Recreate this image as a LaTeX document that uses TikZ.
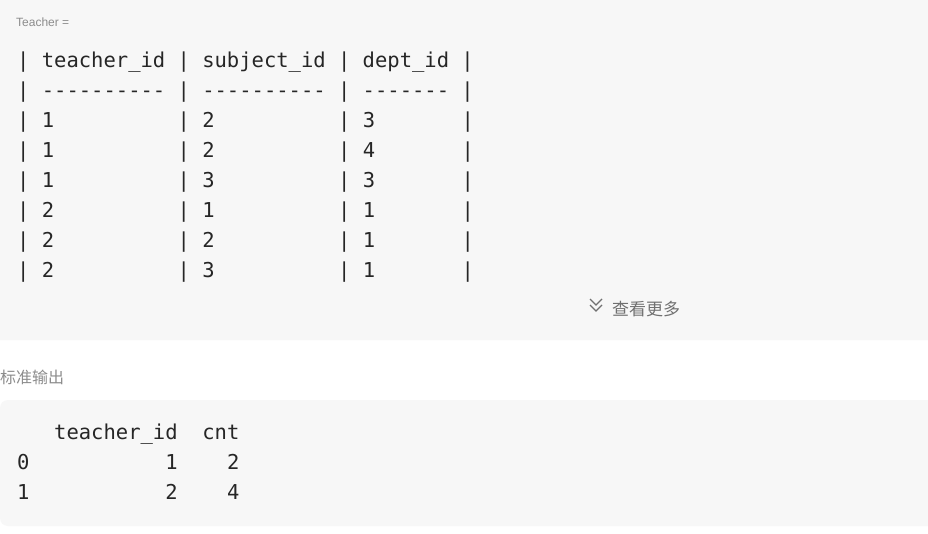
\documentclass[tikz,border=0pt]{standalone}
\usepackage{fontspec}
\setmainfont{Liberation Sans}
\setmonofont{DejaVu Sans Mono}
\newfontfamily\cjk{Noto Sans CJK SC}
\begin{document}
\begin{tikzpicture}[x=1pt,y=-1pt,
  panel/.style={fill=panelgray,draw=none,rounded corners=8pt},
  code/.style={anchor=base west,inner sep=0pt,font=\ttfamily\fontsize{20.5}{24}\selectfont,text=codecol},
  lab/.style={anchor=base west,inner sep=0pt,text=labgray}]
\definecolor{panelgray}{HTML}{F7F7F7}
\definecolor{codecol}{HTML}{262626}
\definecolor{labgray}{HTML}{8C8C8C}
\useasboundingbox[fill=white] (0,0) rectangle (928,534);
\fill[panelgray,rounded corners=8pt] (-10,-10) rectangle (940,340);
\fill[panelgray,rounded corners=8pt] (0,400) rectangle (940,526);
\node[lab,font=\fontsize{12}{14}\selectfont] (t) at (16,27) {Teacher =};
\node[code] (l1) at (17,68) {|~teacher\_id~|~subject\_id~|~dept\_id~|};
\node[code] (l2) at (17,98) {|~----------~|~----------~|~-------~|};
\node[code] (l3) at (17,128) {|~1~~~~~~~~~~|~2~~~~~~~~~~|~3~~~~~~~|};
\node[code] (l4) at (17,158) {|~1~~~~~~~~~~|~2~~~~~~~~~~|~4~~~~~~~|};
\node[code] (l5) at (17,188) {|~1~~~~~~~~~~|~3~~~~~~~~~~|~3~~~~~~~|};
\node[code] (l6) at (17,218) {|~2~~~~~~~~~~|~1~~~~~~~~~~|~1~~~~~~~|};
\node[code] (l7) at (17,248) {|~2~~~~~~~~~~|~2~~~~~~~~~~|~1~~~~~~~|};
\node[code] (l8) at (17,278) {|~2~~~~~~~~~~|~3~~~~~~~~~~|~1~~~~~~~|};
\draw[labgray!80!black,line width=1.2pt] (590,299) -- (596,305) -- (602,299) (590,305) -- (596,311) -- (602,305);
\node[lab,font=\cjk\fontsize{17}{20}\selectfont,text=labgray!80!black] (more) at (612,316) {查看更多};
\node[lab,font=\cjk\fontsize{16}{18}\selectfont] (out) at (0,383) {标准输出};
\node[code] (o1) at (17,439) {~~~teacher\_id~~cnt};
\node[code] (o2) at (17,469) {0~~~~~~~~~~~1~~~~2};
\node[code] (o3) at (17,499) {1~~~~~~~~~~~2~~~~4};
\end{tikzpicture}
\end{document}
